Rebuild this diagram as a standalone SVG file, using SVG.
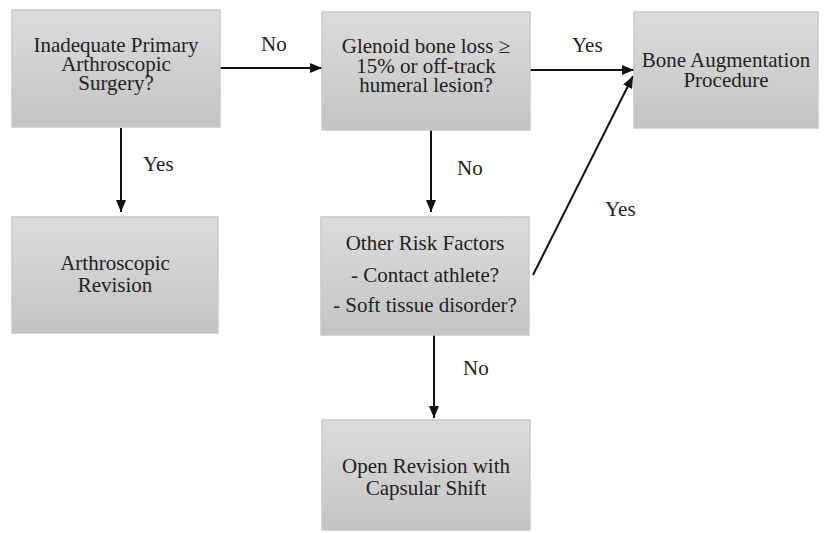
<svg xmlns="http://www.w3.org/2000/svg" width="828" height="533" viewBox="0 0 828 533">
<style>
.box{fill:url(#g);stroke:#c8c8c8;stroke-width:1.5}
text{font-family:'Liberation Serif','Times New Roman','DejaVu Serif',serif;font-size:21px;fill:#222}
.t{text-anchor:middle}
.c{stroke:#111;stroke-width:2;fill:none;marker-end:url(#ah)}
</style>
<defs>
<linearGradient id="g" x1="0" y1="0" x2="0" y2="1">
<stop offset="0" stop-color="#dcdcdc"/>
<stop offset="1" stop-color="#c4c4c4"/>
</linearGradient>
<marker id="ah" viewBox="0 0 12 10" refX="12" refY="5" markerWidth="12" markerHeight="10" markerUnits="userSpaceOnUse" orient="auto">
<path d="M0,0 L12,5 L0,10 Z" fill="#111"/>
</marker>
</defs>
<rect width="828" height="533" fill="#fff"/>
<g id="connectors" font-family="Liberation Serif, serif">
<line class="c" x1="220" y1="68" x2="322" y2="68"/>
<line class="c" x1="121" y1="128" x2="121" y2="212"/>
<line class="c" x1="530" y1="70" x2="634" y2="70"/>
<line class="c" x1="431" y1="130" x2="431" y2="212"/>
<line class="c" x1="533" y1="275" x2="633" y2="76"/>
<line class="c" x1="434" y1="335" x2="434" y2="418"/>
<text x="261" y="51">No</text>
<text x="143" y="171">Yes</text>
<text x="572" y="52">Yes</text>
<text x="457" y="175">No</text>
<text x="605" y="216">Yes</text>
<text x="463" y="375">No</text>
</g>
<g id="n1" font-family="Liberation Serif, serif">
<rect class="box" x="12" y="10" width="208" height="117"/>
<text class="t" x="116" y="52"><tspan x="116">Inadequate Primary</tspan><tspan x="116" dy="19">Arthroscopic</tspan><tspan x="116" dy="19">Surgery?</tspan></text>
</g>
<g id="n2" font-family="Liberation Serif, serif">
<rect class="box" x="322" y="12" width="208" height="118"/>
<text class="t" x="426" y="53"><tspan x="426">Glenoid bone loss ≥</tspan><tspan x="426" dy="19.5">15% or off-track</tspan><tspan x="426" dy="19.5">humeral lesion?</tspan></text>
</g>
<g id="n3" font-family="Liberation Serif, serif">
<rect class="box" x="634" y="12" width="184" height="116"/>
<text class="t" x="726" y="67"><tspan x="726">Bone Augmentation</tspan><tspan x="726" dy="20">Procedure</tspan></text>
</g>
<g id="n4" font-family="Liberation Serif, serif">
<rect class="box" x="12" y="217" width="206" height="116"/>
<text class="t" x="115" y="270"><tspan x="115">Arthroscopic</tspan><tspan x="115" dy="22">Revision</tspan></text>
</g>
<g id="n5" font-family="Liberation Serif, serif">
<rect class="box" x="321" y="217" width="208" height="118"/>
<text class="t" x="425" y="250"><tspan x="425">Other Risk Factors</tspan><tspan x="425" dy="32">- Contact athlete?</tspan><tspan x="425" dy="30">- Soft tissue disorder?</tspan></text>
</g>
<g id="n6" font-family="Liberation Serif, serif">
<rect class="box" x="322" y="420" width="208" height="110"/>
<text class="t" x="426" y="473"><tspan x="426">Open Revision with</tspan><tspan x="426" dy="22">Capsular Shift</tspan></text>
</g>
</svg>
